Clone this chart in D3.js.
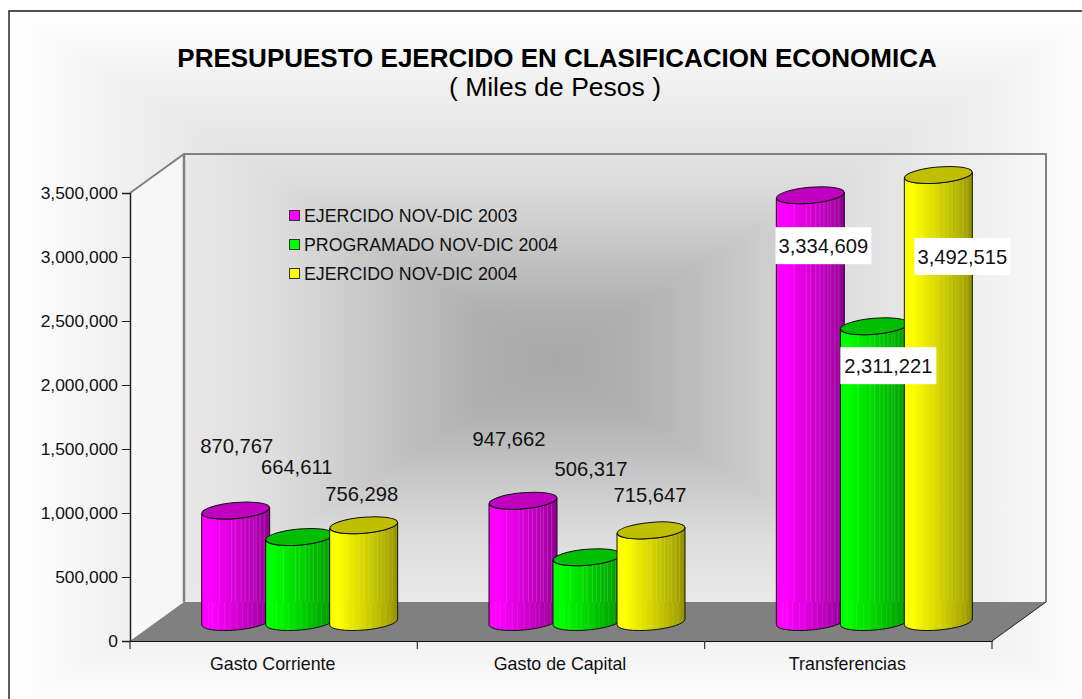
<!DOCTYPE html>
<html>
<head>
<meta charset="utf-8">
<style>
  html, body { margin: 0; padding: 0; background: #fff; }
  svg { display: block; font-family: "Liberation Sans", Arial, sans-serif; }
</style>
<script src="https://cdn.jsdelivr.net/npm/d3@7"></script>
</head>
<body>
<div id="chart"></div>
<script>
// data
var categories = ["Gasto Corriente", "Gasto de Capital", "Transferencias"];
var seriesNames = ["EJERCIDO NOV-DIC 2003", "PROGRAMADO NOV-DIC 2004", "EJERCIDO NOV-DIC 2004"];
var ejercido2003 = [870767, 947662, 3334609];
var programado2004 = [664611, 506317, 2311221];
var ejercido2004 = [756298, 715647, 3492515];
var yTicks = [0, 500000, 1000000, 1500000, 2000000, 2500000, 3000000, 3500000];

var seriesValues = [ejercido2003, programado2004, ejercido2004];
var seriesColors = ["#ff00ff", "#00ff00", "#ffff00"];

// label offsets from the top of each cylinder [series][category]
var labelOffsets = [
  [[1, -59], [-14, -56], [13, 57]],
  [[-3, -64], [4, -82], [14, 46]],
  [[-2, -25], [-1, -29], [24, 88]]
];
var boxedLabels = [false, false, true];

var width = 1082, height = 699;
var plot = {left: 130, right: 992, top: 193, bottom: 641};
var depth = {x: 54, y: 39};
var barRx = 34, barRy = 8, barTilt = -5, barLift = 19, labelLift = 18;

var svg = d3.select("#chart").append("svg")
    .attr("width", width)
    .attr("height", height);
var defs = svg.append("defs");

var x = d3.scaleBand().domain(categories).range([plot.left, plot.right]);
var y = d3.scaleLinear().domain([0, 3500000]).range([plot.bottom, plot.top]);
var seriesX = d3.scalePoint().domain(seriesNames).range([-64, 64]);

// background, a rectangular gradient built from four triangles
var frame = {x0: 9, y0: 11, x1: 1101, y1: 709, cx: 555, cy: 360};
var bgSides = [
  {id: "bgL", pts: [[frame.x0, frame.y0], [frame.cx, frame.cy], [frame.x0, frame.y1]], g: [frame.x0, frame.cy]},
  {id: "bgR", pts: [[frame.x1, frame.y0], [frame.cx, frame.cy], [frame.x1, frame.y1]], g: [frame.x1, frame.cy]},
  {id: "bgT", pts: [[frame.x0, frame.y0], [frame.cx, frame.cy], [frame.x1, frame.y0]], g: [frame.cx, frame.y0]},
  {id: "bgB", pts: [[frame.x0, frame.y1], [frame.cx, frame.cy], [frame.x1, frame.y1]], g: [frame.cx, frame.y1]}
];
bgSides.forEach(function(s) {
  var grad = defs.append("linearGradient").attr("id", s.id)
      .attr("gradientUnits", "userSpaceOnUse")
      .attr("x1", s.g[0]).attr("y1", s.g[1])
      .attr("x2", frame.cx).attr("y2", frame.cy);
  grad.append("stop").attr("offset", 0).attr("stop-color", "#ffffff");
  grad.append("stop").attr("offset", 0.5).attr("stop-color", "#dcdcdc");
  grad.append("stop").attr("offset", 0.85).attr("stop-color", "#b0b0b0");
  grad.append("stop").attr("offset", 1).attr("stop-color", "#a8a8a8");
  svg.append("polygon")
      .attr("points", s.pts.join(" "))
      .attr("fill", "url(#" + s.id + ")")
      .attr("stroke", "url(#" + s.id + ")")
      .attr("stroke-width", 0.6);
});

// frame only shows on the top and left, the rest is cut off
svg.append("path")
    .attr("d", "M" + width + "," + frame.y0 + "H" + frame.x0 + "V" + height)
    .attr("fill", "none")
    .attr("stroke", "#1a1a1a")
    .attr("stroke-width", 1.4);

// titles
svg.append("text").attr("x", 557).attr("y", 67)
    .attr("text-anchor", "middle")
    .attr("font-size", 26).attr("font-weight", "bold")
    .attr("fill", "#000")
    .text("PRESUPUESTO EJERCIDO EN CLASIFICACION ECONOMICA");
svg.append("text").attr("x", 555).attr("y", 96)
    .attr("text-anchor", "middle")
    .attr("font-size", 26.5)
    .attr("fill", "#000")
    .text("( Miles de Pesos )");

// walls and floor
svg.append("polygon")
    .attr("points", [[plot.left, plot.top], [plot.left + depth.x, plot.top - depth.y],
      [plot.left + depth.x, plot.bottom - depth.y], [plot.left, plot.bottom]].join(" "))
    .attr("fill", "#ffffff").attr("fill-opacity", 0.55);
svg.append("polygon")
    .attr("points", [[plot.left, plot.bottom], [plot.left + depth.x, plot.bottom - depth.y],
      [plot.right + depth.x, plot.bottom - depth.y], [plot.right, plot.bottom]].join(" "))
    .attr("fill", "#808080");
svg.append("path")
    .attr("d", "M" + plot.left + "," + plot.top +
      "L" + (plot.left + depth.x) + "," + (plot.top - depth.y) +
      "H" + (plot.right + depth.x) +
      "V" + (plot.bottom - depth.y))
    .attr("fill", "none").attr("stroke", "#808080").attr("stroke-width", 2);
svg.append("line")
    .attr("x1", plot.left + depth.x).attr("x2", plot.left + depth.x)
    .attr("y1", plot.top - depth.y).attr("y2", plot.bottom - depth.y)
    .attr("stroke", "#808080").attr("stroke-width", 2.5);
svg.append("line")
    .attr("x1", plot.right).attr("y1", plot.bottom)
    .attr("x2", plot.right + depth.x).attr("y2", plot.bottom - depth.y)
    .attr("stroke", "#222").attr("stroke-width", 1);

// axes
var yAxis = d3.axisLeft(y).tickValues(yTicks).tickFormat(d3.format(",")).tickSize(8).tickPadding(4);
var yG = svg.append("g").attr("transform", "translate(" + plot.left + ",0)").call(yAxis);
yG.selectAll("text").attr("font-size", 17.4).attr("font-family", null).attr("fill", "#111");
yG.select(".domain").attr("stroke", "#222").attr("stroke-width", 1.5);
yG.selectAll(".tick line").attr("stroke", "#222");

var xAxis = d3.axisBottom(x).tickSize(0).tickPadding(16);
var xG = svg.append("g").attr("transform", "translate(0," + plot.bottom + ")").call(xAxis);
xG.selectAll("text").attr("font-size", 17.8).attr("font-family", null).attr("fill", "#111")
    .attr("dx", -1);
xG.select(".domain").attr("stroke", "#111").attr("stroke-width", 1.2);
// separators sit between the categories
xG.selectAll(".sep").data(d3.range(categories.length + 1)).enter().append("line")
    .attr("class", "sep")
    .attr("x1", function(i) { return plot.left + i * x.step(); })
    .attr("x2", function(i) { return plot.left + i * x.step(); })
    .attr("y1", 0).attr("y2", 8)
    .attr("stroke", "#333").attr("stroke-width", 1.2);

// shading of a cylinder, [offset, darkness factor]
var shadeStops = [[0, 1], [0.12, 1], [0.3, 0.92], [0.5, 0.84], [0.7, 0.74], [0.88, 0.66], [1, 0.56]];
var streaks = [0.26, 0.44, 0.5, 0.58, 0.64, 0.7, 0.76, 0.8, 0.86, 0.92];
var floorStreaks = [0.1, 0.16, 0.24, 0.34, 0.42, 0.52, 0.6, 0.68, 0.74, 0.82, 0.9];
var floorY = plot.bottom - depth.y;

seriesNames.forEach(function(name, s) {
  var base = d3.rgb(seriesColors[s]);
  var grad = defs.append("linearGradient").attr("id", "shade" + s);
  shadeStops.forEach(function(st) {
    grad.append("stop").attr("offset", st[0])
        .attr("stop-color", d3.rgb(base.r * st[1], base.g * st[1], base.b * st[1]).formatHex());
  });
});

var tilt = barRx * Math.sin(-barTilt * Math.PI / 180);

function bodyPath(cx, topY, baseY) {
  return "M" + (cx - barRx) + "," + (topY + tilt) +
    "L" + (cx - barRx) + "," + (baseY + tilt) +
    "A" + barRx + "," + barRy + " " + barTilt + " 0 0 " + (cx + barRx) + "," + (baseY - tilt) +
    "L" + (cx + barRx) + "," + (topY - tilt) +
    "A" + barRx + "," + barRy + " " + barTilt + " 0 1 " + (cx - barRx) + "," + (topY + tilt) + "Z";
}

var baseY = plot.bottom - barLift;
var barIndex = 0;
var marks = svg.append("g");

// drawn left to right, each cylinder covers the edge of the previous one
categories.forEach(function(cat, c) {
  seriesNames.forEach(function(name, s) {
    var value = seriesValues[s][c];
    var cx = x(cat) + x.bandwidth() / 2 + depth.x / 2 - 1 + seriesX(name);
    var topY = y(value) - barLift;
    var d = bodyPath(cx, topY, baseY);
    var clipId = "clip" + (barIndex++);
    defs.append("clipPath").attr("id", clipId).append("path").attr("d", d);

    var g = marks.append("g");
    g.append("path").attr("d", d).attr("fill", "url(#shade" + s + ")");

    var inner = g.append("g").attr("clip-path", "url(#" + clipId + ")");
    inner.selectAll(".streak").data(streaks).enter().append("line")
        .attr("class", "streak")
        .attr("x1", function(f) { return cx - barRx + f * 2 * barRx; })
        .attr("x2", function(f) { return cx - barRx + f * 2 * barRx; })
        .attr("y1", topY - barRy).attr("y2", floorY)
        .attr("stroke", "#fff").attr("stroke-opacity", 0.15).attr("stroke-width", 1);
    inner.selectAll(".floorStreak").data(floorStreaks).enter().append("line")
        .attr("class", "floorStreak")
        .attr("x1", function(f) { return cx - barRx + f * 2 * barRx; })
        .attr("x2", function(f) { return cx - barRx + f * 2 * barRx; })
        .attr("y1", floorY).attr("y2", baseY + barRy + 4)
        .attr("stroke", "#fff").attr("stroke-opacity", 0.09).attr("stroke-width", 1);

    g.append("path").attr("d", d)
        .attr("fill", "none").attr("stroke", "#111").attr("stroke-width", 1);

    var k = 0.75;
    g.append("ellipse")
        .attr("cx", cx).attr("cy", topY)
        .attr("rx", barRx).attr("ry", barRy)
        .attr("transform", "rotate(" + barTilt + " " + cx + " " + topY + ")")
        .attr("fill", d3.rgb(d3.rgb(seriesColors[s]).r * k, d3.rgb(seriesColors[s]).g * k, d3.rgb(seriesColors[s]).b * k).formatHex())
        .attr("stroke", "#111").attr("stroke-width", 1);
  });
});

// value labels on top of everything
var fmt = d3.format(",");
categories.forEach(function(cat, c) {
  seriesNames.forEach(function(name, s) {
    var value = seriesValues[s][c];
    var cx = x(cat) + x.bandwidth() / 2 + depth.x / 2 - 1 + seriesX(name);
    var off = labelOffsets[s][c];
    var lx = cx + off[0], ly = y(value) - labelLift + off[1];
    if (boxedLabels[c]) {
      svg.append("rect")
          .attr("x", lx - 48).attr("y", ly - 26)
          .attr("width", 96).attr("height", 37)
          .attr("fill", "#fff");
    }
    svg.append("text").attr("x", lx).attr("y", ly)
        .attr("text-anchor", "middle")
        .attr("font-size", 20.2).attr("fill", "#111")
        .text(fmt(value));
  });
});

// legend
var legendY = d3.scalePoint().domain(seriesNames).range([216, 274]);
var legend = svg.append("g");
seriesNames.forEach(function(name, s) {
  legend.append("rect")
      .attr("x", 289.5).attr("y", legendY(name) - 5.5)
      .attr("width", 10).attr("height", 10)
      .attr("fill", seriesColors[s])
      .attr("stroke", "#333").attr("stroke-width", 1);
  legend.append("text")
      .attr("x", 304).attr("y", legendY(name) + 6)
      .attr("font-size", 17.8).attr("fill", "#111")
      .text(name);
});
</script>
</body>
</html>
